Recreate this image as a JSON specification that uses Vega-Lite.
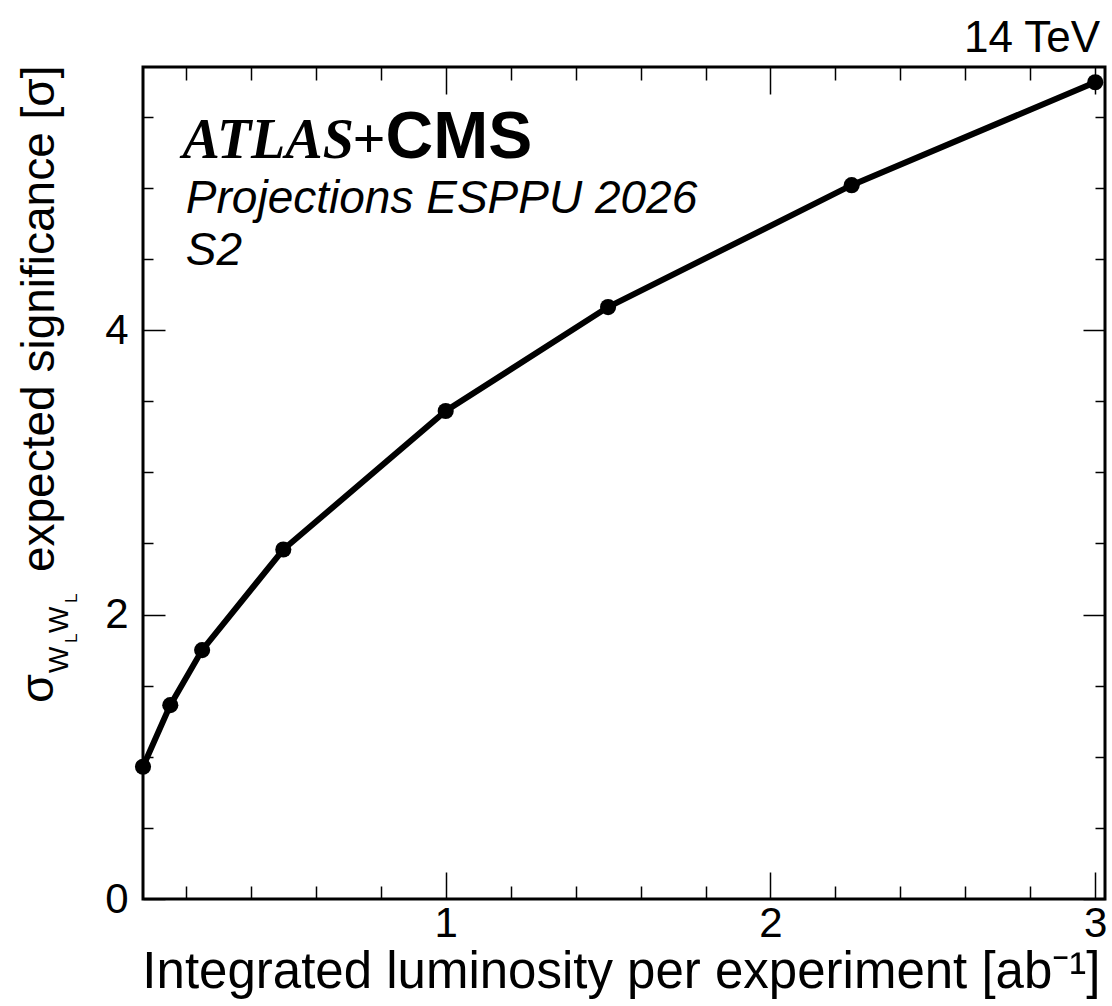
{
  "$schema": "https://vega.github.io/schema/vega-lite/v6.json",
  "autosize": "none",
  "width": 962,
  "height": 832,
  "padding": {"left": 143, "top": 67, "right": 7, "bottom": 107},
  "background": "white",
  "data": {"values": [
    {"lumi": 0.068, "sig": 0.93},
    {"lumi": 0.152, "sig": 1.363},
    {"lumi": 0.25, "sig": 1.75},
    {"lumi": 0.5, "sig": 2.457},
    {"lumi": 1.0, "sig": 3.431},
    {"lumi": 1.5, "sig": 4.162},
    {"lumi": 2.25, "sig": 5.019},
    {"lumi": 3.0, "sig": 5.743}
  ]},
  "layer": [
    {
      "mark": {"type": "line", "color": "black", "strokeWidth": 6},
      "encoding": {
        "x": {"field": "lumi", "type": "quantitative",
          "scale": {"domain": [0.068, 3.03], "nice": false, "zero": false},
          "axis": {"orient": "bottom", "values": [0.2,0.4,0.6,0.8,1,1.2,1.4,1.6,1.8,2,2.2,2.4,2.6,2.8,3],
            "tickSize": {"condition": {"test": "abs(datum.value - round(datum.value)) < 1e-6", "value": -27}, "value": -13},
            "labelExpr": "abs(datum.value - round(datum.value)) < 1e-6 ? format(datum.value, 'd') : ''",
            "labelPadding": 31, "labelFlush": false, "labelOverlap": false,
            "title": "Integrated luminosity per experiment [ab⁻¹]",
            "titleFontSize": 51,
            "titleAnchor": "end", "titleAlign": "right", "titleBaseline": "alphabetic", "titleX": 957, "titleY": 88}},
        "y": {"field": "sig", "type": "quantitative",
          "scale": {"domain": [0, 5.85], "nice": false, "zero": false},
          "axis": {"orient": "left", "values": [0,0.5,1,1.5,2,2.5,3,3.5,4,4.5,5,5.5],
            "tickSize": {"condition": {"test": "abs(datum.value/2 - round(datum.value/2)) < 1e-6", "value": -22}, "value": -10},
            "labelExpr": "abs(datum.value/2 - round(datum.value/2)) < 1e-6 ? format(datum.value, 'd') : ''",
            "labelPadding": 37, "labelFlush": false, "labelOverlap": false,
            "title": "expected significance [σ]",
            "titleFontSize": 46,
            "titleAnchor": "end", "titleAngle": 270, "titleAlign": "right", "titleBaseline": "alphabetic", "titleX": -90, "titleY": -2}}
      }
    },
    {
      "mark": {"type": "point", "filled": true, "size": 260, "color": "black", "opacity": 1},
      "encoding": {
        "x": {"field": "lumi", "type": "quantitative",
          "axis": {"orient": "top", "values": [0.2,0.4,0.6,0.8,1,1.2,1.4,1.6,1.8,2,2.2,2.4,2.6,2.8,3],
            "tickSize": {"condition": {"test": "abs(datum.value - round(datum.value)) < 1e-6", "value": -27}, "value": -13},
            "labels": false, "title": null}},
        "y": {"field": "sig", "type": "quantitative",
          "axis": {"orient": "right", "values": [0,0.5,1,1.5,2,2.5,3,3.5,4,4.5,5,5.5],
            "tickSize": {"condition": {"test": "abs(datum.value/2 - round(datum.value/2)) < 1e-6", "value": -22}, "value": -10},
            "labels": false, "title": null}}
      }
    },
    {
      "data": {"values": [{}]},
      "mark": {"type": "text", "text": "14 TeV", "font": "Liberation Sans", "fontSize": 44, "align": "right", "baseline": "alphabetic", "color": "black"},
      "encoding": {"x": {"datum": 3.015, "axis": null}, "y": {"datum": 5.955, "axis": null}}
    },
    {
      "data": {"values": [{}]},
      "mark": {"type": "text", "text": "ATLAS", "font": "Liberation Serif", "fontStyle": "italic", "fontWeight": "bold", "fontSize": 56, "align": "left", "baseline": "alphabetic", "color": "black"},
      "encoding": {"x": {"datum": 0.19, "axis": null}, "y": {"datum": 5.21, "axis": null}}
    },
    {
      "data": {"values": [{}]},
      "mark": {"type": "text", "text": "+", "font": "Liberation Serif", "fontWeight": "bold", "fontSize": 58, "align": "left", "baseline": "alphabetic", "color": "black", "dx": 170},
      "encoding": {"x": {"datum": 0.19, "axis": null}, "y": {"datum": 5.21, "axis": null}}
    },
    {
      "data": {"values": [{}]},
      "mark": {"type": "text", "text": "CMS", "font": "Liberation Sans", "fontWeight": "bold", "fontSize": 66, "align": "left", "baseline": "alphabetic", "color": "black", "dx": 203},
      "encoding": {"x": {"datum": 0.19, "axis": null}, "y": {"datum": 5.21, "axis": null}}
    },
    {
      "data": {"values": [{}]},
      "mark": {"type": "text", "text": "Projections ESPPU 2026", "font": "Liberation Sans", "fontStyle": "italic", "fontSize": 46, "align": "left", "baseline": "alphabetic", "color": "black"},
      "encoding": {"x": {"datum": 0.2, "axis": null}, "y": {"datum": 4.82, "axis": null}}
    },
    {
      "data": {"values": [{}]},
      "mark": {"type": "text", "text": "S2", "font": "Liberation Sans", "fontStyle": "italic", "fontSize": 46, "align": "left", "baseline": "alphabetic", "color": "black"},
      "encoding": {"x": {"datum": 0.2, "axis": null}, "y": {"datum": 4.455, "axis": null}}
    },
    {
      "data": {"values": [{}]},
      "mark": {"type": "text", "text": "σ", "font": "Liberation Sans", "fontSize": 47, "angle": 270, "align": "left", "baseline": "alphabetic", "color": "black"},
      "encoding": {"x": {"datum": -0.209, "axis": null}, "y": {"datum": 1.378, "axis": null}}
    },
    {
      "data": {"values": [{}]},
      "mark": {"type": "text", "text": "W", "font": "Liberation Sans", "fontSize": 28, "angle": 270, "align": "left", "baseline": "alphabetic", "color": "black"},
      "encoding": {"x": {"datum": -0.163, "axis": null}, "y": {"datum": 1.589, "axis": null}}
    },
    {
      "data": {"values": [{}]},
      "mark": {"type": "text", "text": "L", "font": "Liberation Sans", "fontSize": 17, "angle": 270, "align": "left", "baseline": "alphabetic", "color": "black"},
      "encoding": {"x": {"datum": -0.135, "axis": null}, "y": {"datum": 1.80, "axis": null}}
    },
    {
      "data": {"values": [{}]},
      "mark": {"type": "text", "text": "W", "font": "Liberation Sans", "fontSize": 28, "angle": 270, "align": "left", "baseline": "alphabetic", "color": "black"},
      "encoding": {"x": {"datum": -0.163, "axis": null}, "y": {"datum": 1.87, "axis": null}}
    },
    {
      "data": {"values": [{}]},
      "mark": {"type": "text", "text": "L", "font": "Liberation Sans", "fontSize": 17, "angle": 270, "align": "left", "baseline": "alphabetic", "color": "black"},
      "encoding": {"x": {"datum": -0.135, "axis": null}, "y": {"datum": 2.081, "axis": null}}
    }
  ],
  "resolve": {"axis": {"x": "independent", "y": "independent"}},
  "config": {
    "view": {"stroke": "black", "strokeWidth": 3},
    "axis": {"domain": false, "grid": false, "tickColor": "black", "tickWidth": 1.5,
      "labelColor": "black", "labelFont": "Liberation Sans", "labelFontSize": 42,
      "titleColor": "black", "titleFont": "Liberation Sans", "titleFontSize": 48, "titleFontWeight": "normal"}
  }
}
